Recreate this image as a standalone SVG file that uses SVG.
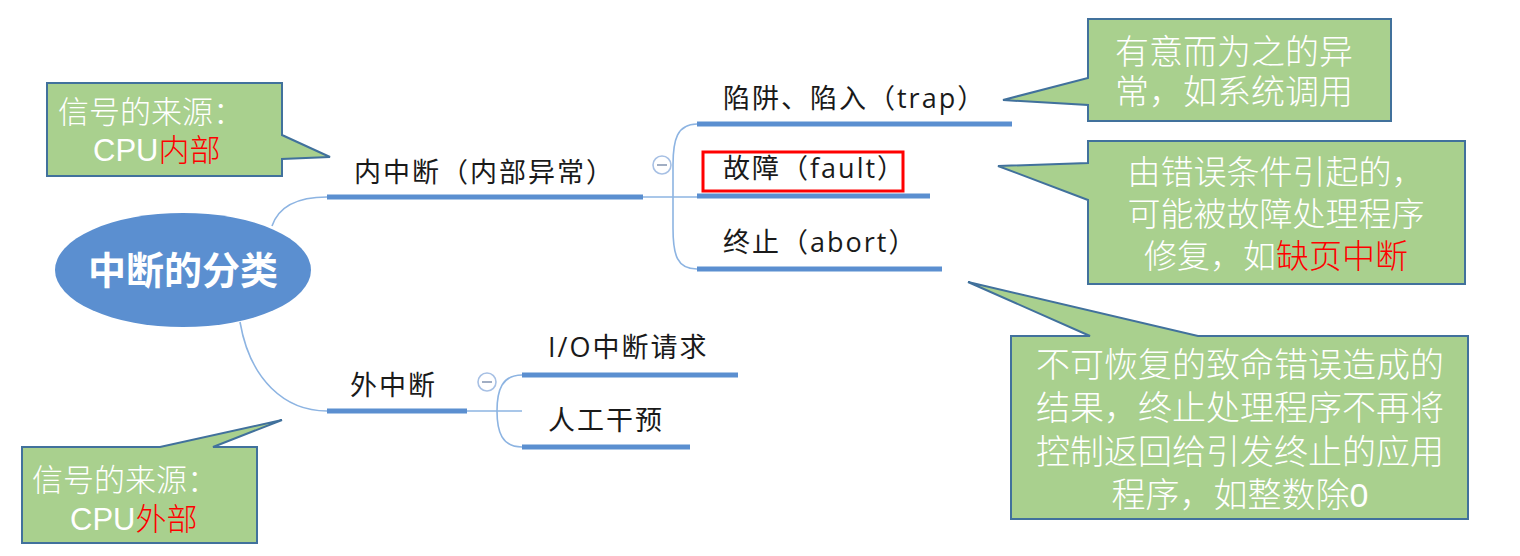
<svg xmlns="http://www.w3.org/2000/svg" width="1520" height="556" viewBox="0 0 1520 556">
<style>
.bg{fill:#ffffff}
.callout{fill:#A9D08E;stroke:#41719C;stroke-width:2;stroke-linejoin:miter}
.ct{font-family:"Liberation Sans","Noto Sans CJK SC",sans-serif;fill:#ffffff;font-weight:300}
.red{fill:#FF0000}
.bar{stroke:#5B8FD0;stroke-width:5;fill:none}
.thin{stroke:#8DB4E2;stroke-width:1.6;fill:none}
.mt{font-family:"Open Sans","Noto Sans CJK SC",sans-serif;font-size:27px;fill:#1a1a1a;letter-spacing:2px}
.toggle{fill:#ffffff;stroke:#A7C0E4;stroke-width:1.6}
.minus{stroke:#8A9AB5;stroke-width:1.6}
</style>
<rect class="bg" x="0" y="0" width="1520" height="556"/>

<g id="connectors">
  <path class="thin" d="M272,226 Q282,197 327,197"/>
  <path class="thin" d="M240,322 C250,380 285,411 327,411"/>
  <line class="thin" x1="643" y1="197" x2="697" y2="197"/>
  <path class="thin" d="M697,124 C677,124 673,140 673,165 V228 C673,255 677,269 697,269"/>
  <line class="thin" x1="467" y1="411" x2="522" y2="411"/>
  <path class="thin" d="M522,375 C502,375 497,390 497,411 C497,432 502,447 522,447"/>
</g>

<g id="root">
  <ellipse cx="183" cy="270" rx="128" ry="57" fill="#5B8FD0"/>
  <text x="183" y="284" text-anchor="middle" font-family="Noto Sans CJK SC, sans-serif" font-size="38" font-weight="bold" fill="#ffffff">中断的分类</text>
</g>

<g id="inner">
  <line class="bar" x1="327" y1="197" x2="643" y2="197"/>
  <text class="mt" x="354" y="182" font-size="28">内中断（内部异常）</text>
  <circle class="toggle" cx="662" cy="165" r="9"/>
  <line class="minus" x1="657" y1="165" x2="667" y2="165"/>
</g>

<g id="trap">
  <line class="bar" x1="697" y1="124" x2="1012" y2="124"/>
  <text class="mt" x="723" y="108">陷阱、陷入（trap）</text>
</g>

<g id="fault">
  <line class="bar" x1="697" y1="196" x2="930" y2="196"/>
  <rect x="703" y="152" width="200" height="39" fill="none" stroke="#FF0000" stroke-width="3"/>
  <text class="mt" x="723" y="178">故障（fault）</text>
</g>

<g id="abort">
  <line class="bar" x1="697" y1="269" x2="942" y2="269"/>
  <text class="mt" x="723" y="252">终止（abort）</text>
</g>

<g id="outer">
  <line class="bar" x1="327" y1="411" x2="467" y2="411"/>
  <text class="mt" x="350" y="395">外中断</text>
  <circle class="toggle" cx="487" cy="382" r="9"/>
  <line class="minus" x1="482" y1="382" x2="492" y2="382"/>
</g>

<g id="io">
  <line class="bar" x1="522" y1="375" x2="738" y2="375"/>
  <text class="mt" x="548" y="357">I/O中断请求</text>
</g>

<g id="manual">
  <line class="bar" x1="522" y1="447" x2="690" y2="447"/>
  <text class="mt" x="548" y="430">人工干预</text>
</g>

<g id="callout-inner-source">
  <path class="callout" d="M47,83 H282 V135 L330,157 L282,159 V176 H47 Z"/>
  <text class="ct" font-size="31"><tspan x="58" y="123">信号的来源：</tspan><tspan x="93" y="161">CPU</tspan><tspan class="red">内部</tspan></text>
</g>

<g id="callout-trap">
  <path class="callout" d="M1088,19 H1391 V121 H1088 V105 L1003,100 L1088,78 Z"/>
  <text class="ct" font-size="34"><tspan x="1115" y="64">有意而为之的异</tspan><tspan x="1115" y="104">常，如系统调用</tspan></text>
</g>

<g id="callout-fault">
  <path class="callout" d="M1088,141 H1465 V284 H1088 V200 L998,166 L1088,163 Z"/>
  <text class="ct" font-size="33" text-anchor="middle"><tspan x="1276" y="184">由错误条件引起的，</tspan><tspan x="1276" y="226">可能被故障处理程序</tspan><tspan x="1276" y="268">修复，如<tspan class="red">缺页中断</tspan></tspan></text>
</g>

<g id="callout-abort">
  <path class="callout" d="M1011,336 H1090 L968,282 L1198,336 H1468 V519 H1011 Z"/>
  <text class="ct" font-size="34" text-anchor="middle"><tspan x="1240" y="377">不可恢复的致命错误造成的</tspan><tspan x="1240" y="420">结果，终止处理程序不再将</tspan><tspan x="1240" y="464">控制返回给引发终止的应用</tspan><tspan x="1240" y="507">程序，如整数除0</tspan></text>
</g>

<g id="callout-outer-source">
  <path class="callout" d="M22,447 H160 L282,420 L213,447 H257 V543 H22 Z"/>
  <text class="ct" font-size="31"><tspan x="32" y="491">信号的来源：</tspan><tspan x="70" y="530">CPU</tspan><tspan class="red">外部</tspan></text>
</g>
</svg>
